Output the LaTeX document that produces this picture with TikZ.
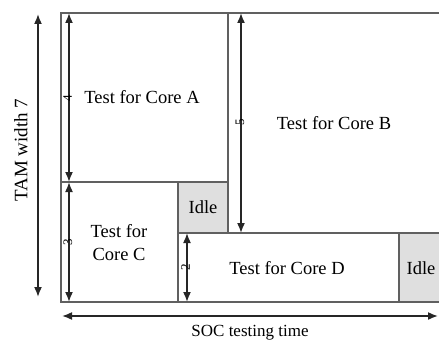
\documentclass[tikz,border=0pt]{standalone}
\usepackage{fontspec}
\setmainfont{Liberation Serif}
\usetikzlibrary{arrows.meta}

\begin{document}
\begin{tikzpicture}[x=0.5pt,y=-0.5pt,
    slot/.style={draw=gray!75!black,line width=1.1pt},
    idle/.style={slot,fill=gray!25},
    dim/.style={draw=black!85,line width=0.8pt,
      {Latex[length=5pt,width=4pt]}-{Latex[length=5pt,width=4pt]}},
    lbl/.style={font=\fontsize{9.25}{10.5}\selectfont,align=center,inner sep=0pt},
    num/.style={font=\fontsize{6.5}{7}\selectfont,rotate=90,inner sep=0pt}]
    \clip (0,0) rectangle (439,342);

    % test slots
    \draw[slot] (61,13) rectangle (228,182);
    \draw[slot] (228,13) rectangle (445,233);
    \draw[slot] (61,182) rectangle (178,302);
    \draw[idle] (178,182) rectangle (228,233);
    \draw[slot] (178,233) rectangle (399,302);
    \draw[idle] (399,233) rectangle (445,302);

    \node[lbl] (coreA) at (142,97) {Test for Core A};
    \node[lbl] (coreB) at (334,123) {Test for Core B};
    \node[lbl] (coreC) at (119,243) {Test for\\[1pt]Core C};
    \node[lbl] (idleC) at (203,207) {Idle};
    \node[lbl] (coreD) at (287,268) {Test for Core D};
    \node[lbl] (idleD) at (421,268) {Idle};

    % widths of the slots
    \coordinate (aTop) at (69,13);
    \coordinate (aBot) at (69,182);
    \coordinate (cBot) at (69,302);
    \coordinate (bTop) at (241,13);
    \coordinate (bBot) at (241,233);
    \coordinate (dTop) at (187,233);
    \coordinate (dBot) at (187,302);
    \draw[dim] (aTop) -- (aBot);
    \draw[dim] (aBot) -- (cBot);
    \draw[dim] (bTop) -- (bBot);
    \draw[dim] (dTop) -- (dBot);
    \node[num] (wA) at (67.5,98) {4};
    \node[num] (wB) at (240,122) {5};
    \node[num] (wC) at (68,242) {3};
    \node[num] (wD) at (185.5,267) {2};

    % axes
    \coordinate (tamTop) at (38,14);
    \coordinate (tamBot) at (38,297);
    \draw[dim] (tamTop) -- (tamBot);
    \node[lbl,rotate=90,font=\fontsize{9.5}{11}\selectfont] (tam) at (21,150) {TAM width 7};

    \coordinate (socL) at (62,316);
    \coordinate (socR) at (438,316);
    \draw[dim] (socL) -- (socR);
    \node[lbl,font=\fontsize{8.5}{10}\selectfont] (soc) at (250,333) {SOC testing time};
\end{tikzpicture}
\end{document}
